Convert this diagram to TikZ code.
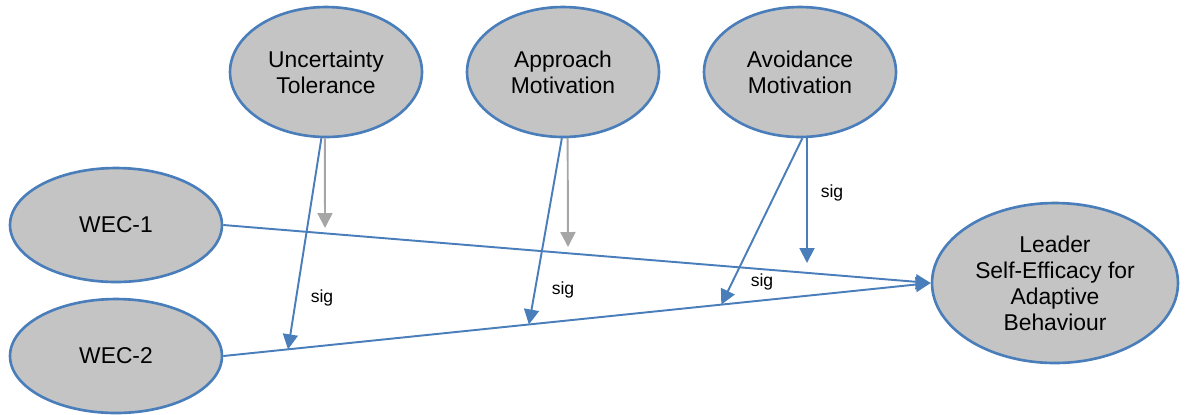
\documentclass[tikz,border=0pt]{standalone}
\usepackage{fontspec}
\setmainfont{Liberation Sans}
\usepackage{tikz}
\usetikzlibrary{shapes.geometric,arrows.meta,calc}

\definecolor{nodefill}{RGB}{196,196,196}
\definecolor{pathblue}{RGB}{74,126,187}
\definecolor{modgray}{RGB}{166,166,166}

\tikzset{
	construct/.style={shape=ellipse,draw=pathblue,fill=nodefill,line width=1.5pt,
		inner sep=0pt,align=center,font=\fontsize{13}{14.8}\selectfont},
	effect/.style={color=pathblue,line width=1.1pt,-{Triangle[length=0.3cm,width=0.3cm]}},
	nseffect/.style={color=modgray,line width=1.1pt,-{Triangle[length=0.3cm,width=0.3cm]}},
	siglabel/.style={font=\fontsize{10}{12}\selectfont}
}

\begin{document}
\begin{tikzpicture}[x=0.02cm,y=-0.02cm]
	\useasboundingbox (0,0) rectangle (1185,414);
	
	\node[construct,minimum width=3.84cm,minimum height=2.6cm] (ut) at (326, 72)     {Uncertainty\\Tolerance};
	\node[construct,minimum width=3.84cm,minimum height=2.6cm] (am) at (563, 72)     {Approach\\Motivation};
	\node[construct,minimum width=3.84cm,minimum height=2.6cm] (avm) at (800, 72)    {Avoidance\\Motivation};
	
	\node[construct,minimum width=4.24cm,minimum height=2.28cm] (wec1) at (116, 225) {WEC-1};
	\node[construct,minimum width=4.24cm,minimum height=2.28cm] (wec2) at (116, 356) {WEC-2};
	
	\node[construct,minimum width=4.92cm,minimum height=3.2cm] (lse) at (1055, 283)  {Leader\\Self-Efficacy for\\Adaptive\\Behaviour};
	
	% points on the WEC paths hit by the moderators
	\coordinate (m1) at ($(wec2.east)!0.0915!(lse.west)$);
	\coordinate (m2) at ($(wec2.east)!0.432!(lse.west)$);
	\coordinate (m3) at ($(wec2.east)!0.704!(lse.west)$);
	\coordinate (g1) at (325, 228);
	\coordinate (g2) at (568, 247);
	\coordinate (g3) at (807, 263);
	
	\draw[effect] (wec1.east) -- (lse.west);
	\draw[effect] (wec2.east) -- (lse.west);
	
	\draw[nseffect] (ut.-91) -- (g1);
	\draw[effect] (ut.-94) -- (m1);
	\draw[nseffect] (am.-86.5) -- (g2);
	\draw[effect] (am.-91) -- (m2);
	\draw[effect] (avm.-88) -- (m3);
	\draw[effect] (avm.-84) -- (g3);
	
	\node[siglabel] (sig1) at (322, 298) {sig};
	\node[siglabel] (sig2) at (563, 290) {sig};
	\node[siglabel] (sig3) at (762, 282) {sig};
	\node[siglabel] (sig4) at (832, 193) {sig};
\end{tikzpicture}
\end{document}
